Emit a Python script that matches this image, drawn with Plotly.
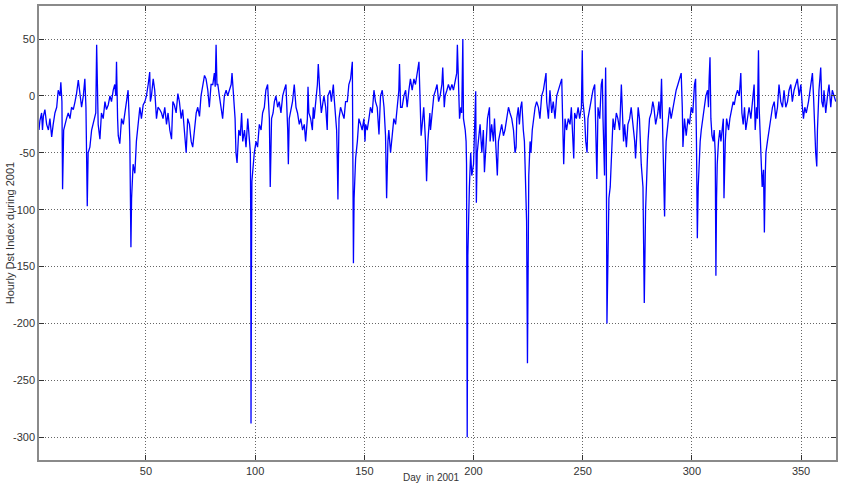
import plotly.graph_objects as go

# Hourly Dst index during 2001 (day of year, nT), in six segments
seg1_day = [1.0, 1.4, 2.2, 2.6, 3.0, 3.7, 4.5, 5.3, 6.0, 6.8, 7.5, 8.3, 9.1, 9.8, 10.6, 11.0, 11.5, 11.8, 12.3, 12.9,
            13.6, 14.4, 15.2, 15.9, 16.7, 17.5, 18.2, 19.0, 19.7, 20.5, 21.3, 22.0, 22.5, 22.8, 23.1, 23.5, 24.3, 25.1,
            25.8, 26.6, 27.0, 27.4, 27.8, 28.1, 28.9, 29.6, 30.4, 31.2, 31.9, 32.7, 33.5, 34.2, 35.0, 35.7, 36.2, 36.5,
            37.0, 37.3, 38.0, 38.8, 39.6, 40.3, 41.1, 41.8, 42.3, 42.6, 43.1, 43.4, 44.1, 44.9, 45.6, 46.4, 47.2, 47.9,
            48.7, 49.5, 50.2, 51.0, 51.7, 52.0, 52.5, 53.3, 54.0, 54.8, 55.5, 56.3, 57.1, 57.8, 58.6, 59.4, 60.1, 60.9,
            61.7]
seg1_dst = [-30, -22, -15, -30, -18, -12, -25, -30, -20, -36, -25, -15, -10, 5, 0, 12, -5, -82, -30, -24,
            -20, -15, -20, -10, -12, -5, 2, 14, 0, -10, 0, 15, -10, -40, -97, -50, -45, -30,
            -25, -20, -15, 45, -20, -25, -38, -15, -20, -5, -12, -8, 0, -5, 5, 10, 0, 30,
            -20, -35, -42, -20, -25, -15, -5, 5, -20, -40, -133, -90, -60, -68, -40, -25, -10, -20,
            -8, -5, 0, 10, 21, -5, 0, 15, 5, -20, -10, -12, -15, -20, -10, -25, -15, -30,
            -38]

seg2_day = [62.3, 63.0, 63.8, 64.6, 65.3, 66.1, 66.8, 67.6, 68.4, 69.1, 69.9, 70.7, 71.4, 72.2, 73.0, 73.7, 74.5,
            75.2, 76.0, 76.8, 77.5, 78.3, 79.0, 79.8, 80.6, 81.3, 81.7, 82.1, 82.5, 82.9, 83.6, 84.4, 85.1, 85.9,
            86.7, 87.4, 88.2, 89.0, 89.4, 90.2, 90.8, 91.2, 91.7, 92.5, 93.2, 93.8, 94.3, 95.1, 95.8, 96.6, 97.3,
            97.8, 98.0, 98.1, 98.3, 98.5, 98.9, 99.6, 100.4, 101.1, 101.9, 102.7, 103.4, 104.2, 104.9, 105.7, 106.5,
            106.9, 107.5, 108.2, 108.8, 109.5, 110.3, 111.0, 111.8, 112.6, 113.3, 114.1, 114.9, 115.2, 115.6, 116.4,
            117.1, 117.9, 118.7, 119.4, 120.2, 120.9, 121.7, 122.5]
seg2_dst = [-5, -8, -15, 2, -5, -20, -12, -30, -50, -20, -25, -40, -45, -30, -15, -10, -18,
            0, 10, 18, 15, 5, -10, 10, 10, 20, 8, 45, 10, 10, 0, -10, -20, 0,
            5, 0, 5, 10, 20, -5, -20, -50, -59, -30, -35, -15, -40, -30, -45, -20, -35,
            -50, -120, -288, -150, -75, -62, -50, -40, -45, -25, -30, -15, -10, 5, 10, -20,
            -80, -20, -15, -5, 0, -10, -5, -15, 0, 5, 10, -30, -60, -20, -10,
            -5, 10, -10, -15, -25, -20, -30, -25]

seg3_day = [123.1, 123.9, 124.2, 124.6, 125.4, 126.2, 126.6, 127.0, 127.7, 128.5, 128.9, 129.3, 129.7, 130.3, 130.8,
            131.5, 132.3, 133.0, 133.3, 134.3, 134.9, 135.8, 136.1, 136.8, 137.3, 137.6, 137.9, 138.1, 138.4, 139.1,
            139.9, 140.7, 141.4, 142.2, 142.9, 143.7, 144.5, 144.8, 145.0, 145.3, 145.7, 146.0, 146.8, 147.5, 148.3,
            149.0, 149.8, 150.3, 150.6, 151.3, 152.1, 152.8, 153.6, 154.4, 155.1, 155.9, 156.7, 157.4, 158.2, 159.0,
            159.7, 160.2, 160.8, 161.2, 162.0, 162.8, 163.5, 164.3, 165.0, 165.8, 166.1, 166.6, 167.3, 168.1, 168.9,
            169.6, 170.4, 171.1, 171.9, 172.7, 173.4, 174.2, 175.0, 175.4, 175.7, 176.0, 176.5, 177.2, 178.0, 178.5,
            179.1, 179.5, 180.0, 180.3, 181.0, 181.8, 182.6, 183.3]
seg3_dst = [-40, -20, 8, -15, -20, -30, -10, -20, -5, 10, 28, 5, 0, -15, -10,
            0, -10, -30, 0, 5, -5, 10, 0, -15, -30, -55, -91, -60, -20, -10,
            -15, -20, -5, -5, 10, 15, 30, -50, -147, -90, -60, -55, -40, -20, -25,
            -30, -20, -40, -25, -30, -20, -10, -15, 5, -5, -10, -34, 0, 5, -10,
            -35, -90, -40, -30, -50, -30, -20, -25, -10, 5, 28, -10, -10, 0, 5,
            -10, 5, 15, 5, 15, 10, 20, 30, 5, -20, -35, -25, -10, -40, -75,
            -40, -30, -15, -30, -15, 0, 5, 10]

seg4_day = [184.0, 184.7, 185.5, 185.9, 186.6, 187.0, 187.8, 188.5, 189.3, 190.1, 190.8, 191.6, 192.3, 192.6, 193.1,
            193.6, 194.2, 194.6, 195.1, 195.4, 196.2, 196.6, 196.8, 197.1, 197.4, 197.7, 198.1, 198.7, 199.2, 200.0,
            200.7, 201.0, 201.3, 201.7, 202.2, 203.0, 203.8, 204.5, 205.0, 205.8, 206.4, 207.3, 207.6, 208.3, 209.1,
            209.6, 210.3, 210.9, 211.4, 212.2, 212.9, 213.7, 214.4, 215.2, 216.0, 216.7, 217.5, 218.3, 219.0, 219.5,
            219.8, 220.5, 221.0, 221.6, 222.1, 222.8, 223.3, 223.6, 224.3, 224.7, 225.0, 225.3, 225.9, 226.3, 226.9,
            227.4, 228.2, 228.9, 229.7, 230.4, 231.2, 232.0, 232.7, 233.2, 233.5, 234.3, 235.0, 235.8, 236.5, 237.3,
            238.1, 238.8, 239.6, 240.4, 240.8, 241.3, 241.9, 242.6, 243.4, 244.2]
seg4_dst = [-5, 0, 10, 25, -10, 0, 5, 10, 5, 10, 5, 15, 20, 45, 0,
            -20, -10, -15, 50, -20, -30, -40, -60, -300, -140, -100, -80, -50, -70, -60,
            -10, 4, -94, -50, -40, -25, -50, -30, -67, -45, -20, -10, -40, -25, -40,
            -20, -50, -70, -40, -30, -25, -35, -30, -20, -10, -15, -20, -30, -50, -45,
            -20, -10, -25, -10, -5, -30, -40, -60, -110, -235, -120, -70, -40, -50, -30,
            -20, -10, -5, -10, -20, 0, 5, 15, 20, -5, -20, 5, -15, -5, -20,
            0, 5, 10, 15, -20, -60, -20, -30, -20, -25]

seg5_day = [244.8, 245.6, 245.9, 246.3, 247.1, 247.9, 248.6, 249.4, 249.8, 250.1, 250.9, 251.4, 252.0, 252.4, 253.2,
            254.0, 254.7, 255.5, 255.9, 256.2, 256.5, 257.0, 257.8, 258.5, 259.0, 259.3, 259.7, 260.0, 260.5, 260.8,
            261.1, 261.5, 262.0, 262.6, 263.1, 263.6, 263.9, 264.6, 265.4, 266.1, 266.9, 267.7, 268.1, 268.7, 269.2,
            270.0, 270.7, 271.5, 272.2, 273.0, 273.8, 274.2, 274.8, 275.4, 276.0, 276.5, 276.8, 277.6, 278.2, 278.8,
            279.4, 279.9, 280.6, 281.4, 282.1, 282.6, 283.4, 284.0, 284.4, 284.9, 285.5, 286.1, 286.7, 287.2, 287.5,
            287.9, 288.2, 289.0, 289.8, 290.5, 291.3, 292.1, 292.8, 293.6, 294.3, 295.1, 295.6, 295.9, 296.6, 297.4,
            298.2, 298.9, 299.7, 300.4, 301.2, 301.7, 302.1, 302.5, 302.9, 303.2, 303.8, 304.3, 305.0]
seg5_dst = [-10, -40, -55, -15, -20, -10, -20, -10, 40, -5, -20, -40, -50, -20, -10,
            0, 5, 10, -20, -50, -73, -10, -20, 10, 15, -20, -50, -70, 25, -40,
            -200, -130, -90, -80, -50, -30, -20, -30, -15, -20, -30, 10, -20, -40, -25,
            -45, -25, -20, -10, -25, -40, -55, -30, -10, -20, -50, -60, -80, -182, -100,
            -60, -40, -20, -15, -5, -10, -25, -20, -15, -5, -20, 15, -30, -60, -106,
            -60, -40, -25, -10, -20, -10, 0, 5, 10, 15, 20, -10, -45, -20, -35,
            -20, -25, -10, -15, 10, 15, -40, -125, -80, -60, -40, -30, -20]

seg6_day = [305.7, 306.4, 307.2, 307.6, 307.9, 308.3, 308.7, 309.2, 309.8, 310.2, 310.7, 311.0, 311.3, 311.6, 312.2,
            312.8, 313.3, 313.7, 314.4, 314.7, 315.0, 315.3, 315.9, 316.8, 317.4, 318.3, 318.9, 319.4, 320.1, 320.9,
            321.7, 322.4, 322.9, 323.5, 324.1, 324.7, 325.5, 326.2, 327.0, 327.8, 328.5, 329.0, 329.6, 330.0, 330.5,
            330.8, 331.3, 331.7, 332.2, 332.8, 333.2, 333.6, 333.9, 334.6, 335.4, 336.1, 336.9, 337.7, 338.4, 339.2,
            339.9, 340.7, 341.5, 342.2, 343.0, 343.8, 344.5, 345.3, 346.0, 346.8, 347.6, 348.3, 349.1, 349.9, 350.6,
            351.1, 351.7, 352.4, 353.4, 354.0, 354.4, 355.2, 355.7, 356.1, 356.7, 357.2, 357.5, 358.2, 358.7, 359.0,
            359.5, 360.1, 360.5, 361.3, 362.1, 362.8, 363.6, 364.3, 365.1, 365.9]
seg6_dst = [-10, 0, 5, -10, 15, 34, -20, -35, -40, -30, -50, -158, -90, -60, -40,
            -30, -40, -30, -20, -90, -60, -40, -20, -30, -20, -10, -5, -8, 0, 5,
            0, 20, -15, -25, -10, -30, -20, -10, -20, -5, 10, -30, -10, -20, 40,
            -10, -40, -60, -80, -65, -120, -70, -50, -40, -30, -20, -10, -5, -20, -10,
            10, -5, -10, 5, -10, -5, 5, 10, -5, 5, 10, 15, 0, 10, -10,
            -20, -10, -15, -5, 5, 10, 20, 0, -30, -50, -62, -30, 5, 15, 25,
            -5, -10, 5, -15, 0, 10, -10, 5, 0, -5]

days = seg1_day + seg2_day + seg3_day + seg4_day + seg5_day + seg6_day
dst = seg1_dst + seg2_dst + seg3_dst + seg4_dst + seg5_dst + seg6_dst

x_ticks = [50, 100, 150, 200, 250, 300, 350]
y_ticks = [50, 0, -50, -100, -150, -200, -250, -300]
y_tick_text = [str(v) for v in y_ticks]

fig = go.Figure()
fig.add_trace(go.Scatter(x=days, y=dst, mode="lines",
                         line=dict(color="#0000ff", width=1.3), showlegend=False))

axis_common = dict(
    showline=True, linecolor="#8a8a8a", linewidth=1.5, mirror="allticks",
    ticks="inside", ticklen=5, tickcolor="#333333",
    showgrid=True, gridcolor="#666666", gridwidth=1, griddash="1px,2px",
    zeroline=False, tickfont=dict(family="Liberation Sans Narrow, Arial", size=11, color="#333333"),
)
fig.update_xaxes(range=[1, 366], tickvals=x_ticks, **axis_common)
fig.update_yaxes(range=[-320, 79], tickvals=y_ticks, ticktext=y_tick_text, **axis_common)

fig.update_layout(
    width=843, height=484,
    margin=dict(l=39, r=7, t=4, b=24),
    paper_bgcolor="white", plot_bgcolor="white",
    annotations=[
        dict(text="Day  in 2001", xref="paper", yref="paper", x=0.492, y=-0.052, yanchor="bottom",
             showarrow=False, borderpad=0,
             font=dict(family="Liberation Sans Narrow, Arial", size=10, color="#333333")),
        dict(text="Hourly Dst Index during 2001", xref="paper", yref="paper", x=-0.036, y=0.5,
             xanchor="center", yanchor="middle", textangle=-90, showarrow=False,
             font=dict(family="Liberation Sans Narrow, Arial", size=11, color="#333333")),
    ],
)

fig.write_html("out.html")
